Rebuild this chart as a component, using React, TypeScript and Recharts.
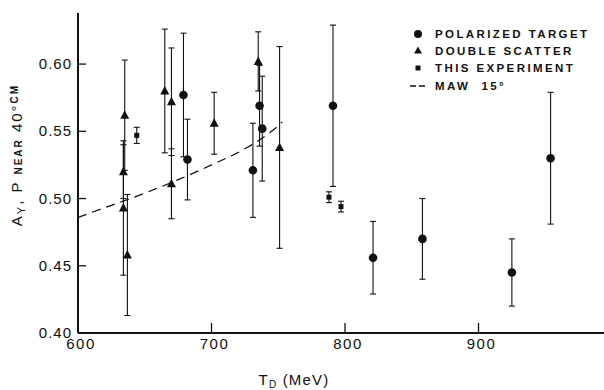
import React from "react";
import { ComposedChart, XAxis, YAxis, Scatter, Line, ErrorBar, Legend } from "recharts";

// polarized target (circles)
const polX = [679, 682, 731, 736, 738, 791, 821, 858, 925, 954];
const polY = [0.577, 0.529, 0.521, 0.569, 0.552, 0.569, 0.456, 0.47, 0.445, 0.53];
const polErr = [0.046, 0.03, 0.035, 0.03, 0.039, 0.06, 0.027, 0.03, 0.025, 0.049];

// double scatter (triangles)
const dsX = [635, 634, 634, 637, 665, 670, 670, 702, 735, 751];
const dsY = [0.562, 0.52, 0.493, 0.458, 0.58, 0.572, 0.511, 0.556, 0.602, 0.538];
const dsErr = [0.041, 0.02, 0.05, 0.045, 0.046, 0.04, 0.026, 0.023, 0.022, 0.075];

// this experiment (squares)
const expX = [644, 788, 797];
const expY = [0.547, 0.501, 0.494];
const expErr = [0.006, 0.004, 0.004];

// MAW 15 deg curve
const mawX = [600, 625, 650, 675, 700, 725, 745, 753];
const mawY = [0.486, 0.495, 0.504, 0.514, 0.525, 0.537, 0.55, 0.557];

const xTicks = [600, 700, 800, 900];
const yTicks = [0.4, 0.45, 0.5, 0.55, 0.6];
const legendLabels = ["POLARIZED TARGET", "DOUBLE SCATTER", "THIS EXPERIMENT", "MAW  15°"];

const toPoints = (xs: number[], ys: number[], es?: number[]) =>
  xs.map((x, i) => ({ x, y: ys[i], err: es ? es[i] : 0 }));

const polarized = toPoints(polX, polY, polErr);
const doubleScatter = toPoints(dsX, dsY, dsErr);
const thisExp = toPoints(expX, expY, expErr);
const maw = toPoints(mawX, mawY);

const INK = "#111";
const FONT = "'Liberation Sans', Arial, sans-serif";

const CircleDot = (p: any) => <circle cx={p.cx} cy={p.cy} r={4.3} fill={INK} />;
const TriDot = (p: any) => (
  <path d={`M${p.cx},${p.cy - 5} L${p.cx + 4.5},${p.cy + 3.5} L${p.cx - 4.5},${p.cy + 3.5} Z`} fill={INK} />
);
const SquareDot = (p: any) => <rect x={p.cx - 2.5} y={p.cy - 2.5} width={5} height={5} fill={INK} />;

const BottomTick = (p: any) => {
  const v = p.payload.value;
  return (
    <g>
      {v !== 600 && <line x1={p.x} y1={p.y} x2={p.x} y2={p.y - 10} stroke={INK} strokeWidth={1.3} />}
      <text x={p.x + 3} y={p.y + 16} textAnchor="middle" fontFamily={FONT} fontSize={15} letterSpacing={1.5} fill={INK}>
        {v}
      </text>
    </g>
  );
};

const TopTick = (p: any) => (
  <line x1={p.x} y1={p.y} x2={p.x} y2={p.y + 5} stroke={INK} strokeWidth={1.3} />
);

const LeftTick = (p: any) => {
  const v = p.payload.value;
  return (
    <g>
      {v !== 0.4 && <line x1={p.x} y1={p.y} x2={p.x + 8} y2={p.y} stroke={INK} strokeWidth={1.3} />}
      <text x={p.x - 6} y={p.y + 5} textAnchor="end" fontFamily={FONT} fontSize={15} letterSpacing={1} fill={INK}>
        {v.toFixed(2)}
      </text>
    </g>
  );
};

const YLabel = () => (
  <text
    x={22}
    y={155}
    transform="rotate(-90, 22, 155)"
    textAnchor="middle"
    fontFamily={FONT}
    fontSize={15}
    letterSpacing={2}
    fill={INK}
  >
    A<tspan fontSize={11} dy={3}>Y</tspan>
    <tspan dy={-3}>, P </tspan>
    <tspan fontSize={10} fontWeight="bold">NEAR</tspan>
    <tspan> 40°</tspan>
    <tspan fontSize={10} fontWeight="bold" dy={-4}>CM</tspan>
  </text>
);

const XLabel = () => (
  <text x={294} y={385} textAnchor="middle" fontFamily={FONT} fontSize={15} letterSpacing={1.2} fill={INK}>
    T<tspan fontSize={10} dy={3}>D</tspan>
    <tspan dy={-3}> (MeV)</tspan>
  </text>
);

const legendMarks = [
  <circle key="c" cx={8} cy={6} r={4} fill={INK} />,
  <path key="t" d="M8,1.5 L12,8.5 L4,8.5 Z" fill={INK} />,
  <rect key="s" x={5.5} y={3.5} width={5} height={5} fill={INK} />,
  <path key="d" d="M0,6 H6 M9,6 H15" stroke={INK} strokeWidth={1.3} />,
];

const renderLegend = () => (
  <div style={{ fontFamily: FONT, fontSize: 11.5, fontWeight: "bold", letterSpacing: 2.4, color: INK }}>
    {legendLabels.map((label, i) => (
      <div key={label} style={{ display: "flex", alignItems: "center", height: 17.3, whiteSpace: "pre" }}>
        <svg width={16} height={12}>{legendMarks[i]}</svg>
        <span style={{ marginLeft: 9 }}>{label}</span>
      </div>
    ))}
  </div>
);

export default function App() {
  return (
    <div style={{ position: "absolute", left: 0, top: 0, background: "#fff" }}>
      <ComposedChart width={604} height={390} margin={{ top: 13, right: 0, bottom: 0, left: 0 }}>
        <XAxis
          dataKey="x"
          type="number"
          domain={[600, 994]}
          allowDataOverflow
          ticks={xTicks}
          height={57}
          tickSize={0}
          tickMargin={0}
          tickLine={false}
          axisLine={{ stroke: INK, strokeWidth: 2 }}
          tick={<BottomTick />}
          interval={0}
          label={<XLabel />}
        />
        <XAxis
          xAxisId="top"
          orientation="top"
          type="number"
          domain={[600, 994]}
          allowDataOverflow
          ticks={[700, 800, 900]}
          height={0}
          tickSize={0}
          tickMargin={0}
          tickLine={false}
          axisLine={{ stroke: INK, strokeWidth: 2 }}
          tick={<TopTick />}
          interval={0}
        />
        <YAxis
          dataKey="y"
          type="number"
          domain={[0.4, 0.638]}
          allowDataOverflow
          ticks={yTicks}
          width={78}
          tickSize={0}
          tickMargin={0}
          tickLine={false}
          axisLine={{ stroke: INK, strokeWidth: 2 }}
          tick={<LeftTick />}
          interval={0}
          label={<YLabel />}
        />
        <Line
          data={maw}
          dataKey="y"
          type="monotone"
          stroke={INK}
          strokeWidth={1.3}
          strokeDasharray="9 6"
          dot={false}
          activeDot={false}
          isAnimationActive={false}
        />
        <Scatter data={polarized} dataKey="y" shape={CircleDot} isAnimationActive={false}>
          <ErrorBar dataKey="err" direction="y" width={3} stroke={INK} strokeWidth={1.1} />
        </Scatter>
        <Scatter data={doubleScatter} dataKey="y" shape={TriDot} isAnimationActive={false}>
          <ErrorBar dataKey="err" direction="y" width={3} stroke={INK} strokeWidth={1.1} />
        </Scatter>
        <Scatter data={thisExp} dataKey="y" shape={SquareDot} isAnimationActive={false}>
          <ErrorBar dataKey="err" direction="y" width={3} stroke={INK} strokeWidth={1.1} />
        </Scatter>
        <Legend
          layout="vertical"
          verticalAlign="middle"
          align="center"
          wrapperStyle={{ top: 25, left: 410, width: 194 }}
          content={renderLegend}
        />
      </ComposedChart>
    </div>
  );
}
